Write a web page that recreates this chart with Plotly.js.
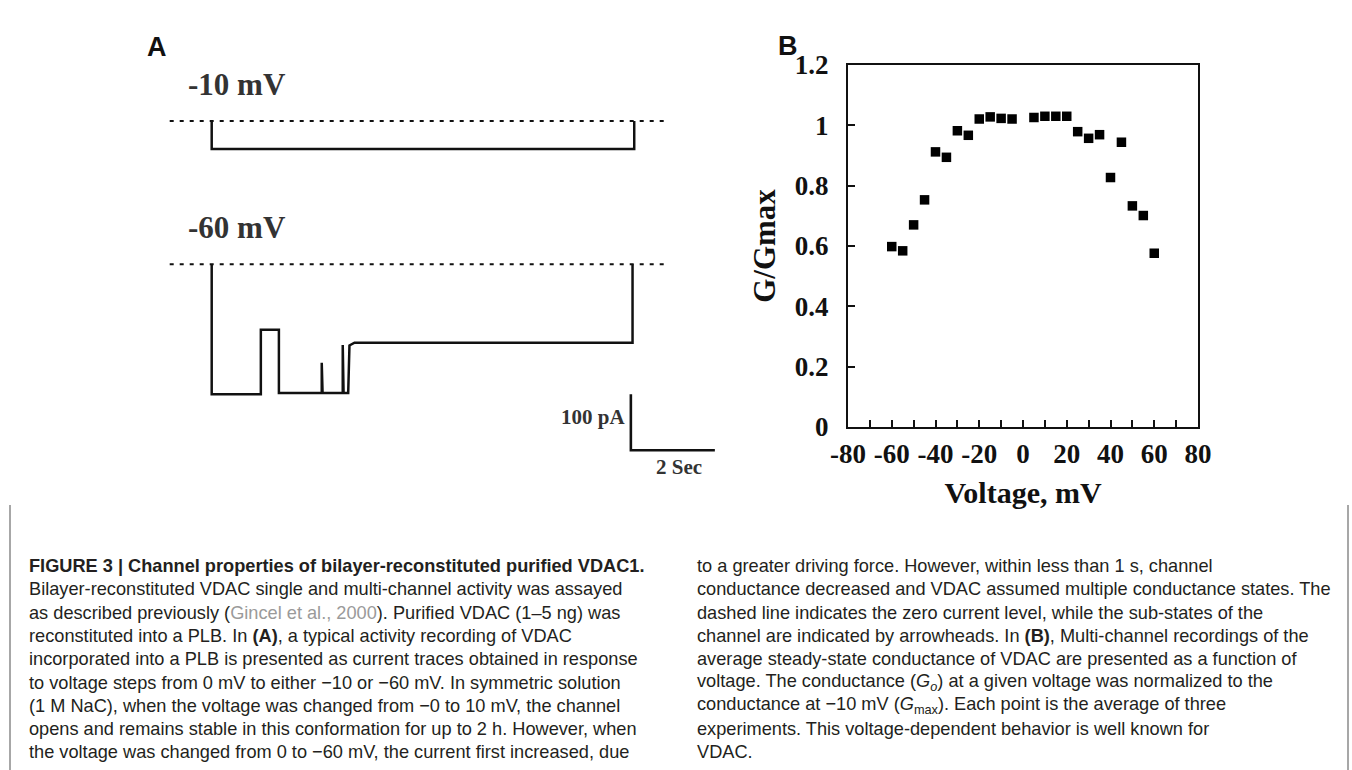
<!DOCTYPE html>
<html>
<head>
<meta charset="utf-8">
<script src="https://cdn.plot.ly/plotly-3.0.1.min.js"></script>
<style>
html, body { margin: 0; padding: 0; background: #ffffff; }
#chart { width: 1352px; height: 770px; }
</style>
</head>
<body>
<div id="chart"></div>
<script>
// ---------- Panel A: current traces (time in s, current in pA) ----------
const trace10Time    = [0, 0, 10.06, 10.06];
const trace10Current = [0, -50, -50, 0];

const trace60Time    = [0, 0, 1.17, 1.17, 1.60, 1.60, 2.62, 2.62, 2.64, 3.12, 3.12, 3.14, 3.25, 3.28, 3.40, 10.02, 10.02];
const trace60Current = [0, -232, -232, -117, -117, -230, -230, -176, -230, -230, -144, -230, -230, -145, -140, -140, 0];

const zeroLineTime    = [-1.0, 10.86];
const zeroLineCurrent = [0, 0];

const scaleBarTime    = [9.98, 9.98, 11.98];
const scaleBarCurrent = [-232, -332, -332];
const scaleBarLabels  = ['100 pA', '2 Sec'];
const traceLabels     = ['-10 mV', '-60 mV'];
const panelLabels     = ['A', 'B'];

// ---------- Panel B: normalized conductance vs voltage ----------
const voltage   = [-60, -55, -50, -45, -40, -35, -30, -25, -20, -15, -10, -5, 5, 10, 15, 20, 25, 30, 35, 40, 45, 50, 55, 60];
const gOverGmax = [0.598, 0.584, 0.670, 0.753, 0.912, 0.894, 0.982, 0.967, 1.021, 1.028, 1.023, 1.021,
                   1.026, 1.030, 1.030, 1.030, 0.979, 0.957, 0.969, 0.827, 0.944, 0.733, 0.701, 0.576];
const xTickVals = [-80, -60, -40, -20, 0, 20, 40, 60, 80];
const xTickText = ['-80', '-60', '-40', '-20', '0', '20', '40', '60', '80'];
const yTickVals = [0, 0.2, 0.4, 0.6, 0.8, 1, 1.2];
const yTickText = ['0', '0.2', '0.4', '0.6', '0.8', '1', '1.2'];
const xTitle = 'Voltage, mV';
const yTitle = 'G/Gmax';

// ---------- Caption ----------
const captionLeft = [
  '<b>FIGURE 3 | Channel properties of bilayer-reconstituted purified VDAC1.</b>',
  'Bilayer-reconstituted VDAC single and multi-channel activity was assayed',
  'as described previously (<span style="color:#9a9a9a">Gincel et al., 2000</span>). Purified VDAC (1–5 ng) was',
  'reconstituted into a PLB. In <b>(A)</b>, a typical activity recording of VDAC',
  'incorporated into a PLB is presented as current traces obtained in response',
  'to voltage steps from 0 mV to either −10 or −60 mV. In symmetric solution',
  '(1 M NaC), when the voltage was changed from −0 to 10 mV, the channel',
  'opens and remains stable in this conformation for up to 2 h. However, when',
  'the voltage was changed from 0 to −60 mV, the current first increased, due'
];
const captionRight = [
  'to a greater driving force. However, within less than 1 s, channel',
  'conductance decreased and VDAC assumed multiple conductance states. The',
  'dashed line indicates the zero current level, while the sub-states of the',
  'channel are indicated by arrowheads. In <b>(B)</b>, Multi-channel recordings of the',
  'average steady-state conductance of VDAC are presented as a function of',
  'voltage. The conductance (<i>G<sub>o</sub></i>) at a given voltage was normalized to the',
  'conductance at −10 mV (<i>G</i><sub>max</sub>). Each point is the average of three',
  'experiments. This voltage-dependent behavior is well known for',
  'VDAC.'
];

// ---------- Layout helpers (pixel -> paper) ----------
const W = 1352, H = 770;
const px = x => x / W;
const py = y => 1 - y / H;

const T0PX = 211.7, PX_PER_S = 42;      // time scale of panel A
const PX_PER_PA = 0.56;                  // current scale of panel A
const xRangeA = [-1.2, 12.4];
const xDomA = [px(T0PX + PX_PER_S * xRangeA[0]), px(T0PX + PX_PER_S * xRangeA[1])];
function yDomain(zeroPx, range) {
  const top = zeroPx - PX_PER_PA * range[1];
  const bottom = zeroPx - PX_PER_PA * range[0];
  return [py(bottom), py(top)];
}
const yRange1 = [-80, 40], yRange2 = [-350, 30];

const SERIF = 'Liberation Serif, Times New Roman, serif';
const SANS = 'Liberation Sans, Arial, sans-serif';
const CAP_FAMILY = 'Liberation Sans Narrow, Arial Narrow, Liberation Sans, Arial, sans-serif';
const INK = '#111111';

// Fit caption font size to the column width
function strip(s) { return s.replace(/<[^>]+>/g, ''); }
const ctx = document.createElement('canvas').getContext('2d');
ctx.font = '100px ' + CAP_FAMILY;
let maxW = 0;
captionLeft.slice(1).concat(captionRight).forEach(l => { maxW = Math.max(maxW, ctx.measureText(strip(l)).width); });
const capSize = Math.round(100 * 636 / maxW * 10) / 10;
const CAP_TOP = 566, CAP_STEP = 23.3;

const traces = [
  { x: zeroLineTime, y: zeroLineCurrent, xaxis: 'x', yaxis: 'y', mode: 'lines',
    line: { color: INK, width: 2, dash: '4px,6px' }, hoverinfo: 'skip', showlegend: false },
  { x: trace10Time, y: trace10Current, xaxis: 'x', yaxis: 'y', mode: 'lines',
    line: { color: INK, width: 2.5 }, showlegend: false },
  { x: zeroLineTime, y: zeroLineCurrent, xaxis: 'x2', yaxis: 'y2', mode: 'lines',
    line: { color: INK, width: 2, dash: '4px,6px' }, hoverinfo: 'skip', showlegend: false },
  { x: trace60Time, y: trace60Current, xaxis: 'x2', yaxis: 'y2', mode: 'lines',
    line: { color: INK, width: 2.5 }, showlegend: false },
  { x: scaleBarTime, y: scaleBarCurrent, xaxis: 'x2', yaxis: 'y2', mode: 'lines',
    line: { color: INK, width: 2.6 }, showlegend: false },
  { x: voltage, y: gOverGmax, xaxis: 'x3', yaxis: 'y3', mode: 'markers',
    marker: { symbol: 'square', size: 9.5, color: '#000000' }, showlegend: false }
];

const hidden = { visible: false, showgrid: false, zeroline: false, fixedrange: true };

const annotations = [];
function ann(o) { annotations.push(Object.assign({ showarrow: false, xref: 'paper', yref: 'paper' }, o)); }

ann({ text: panelLabels[0], x: px(157), y: py(47), xanchor: 'center', yanchor: 'middle',
      font: { family: SANS, size: 27, color: INK, weight: 'bold' } });
ann({ text: panelLabels[1], x: px(788), y: py(46), xanchor: 'center', yanchor: 'middle',
      font: { family: SANS, size: 27, color: INK, weight: 'bold' } });
ann({ text: traceLabels[0], x: px(186), y: py(84), xanchor: 'left', yanchor: 'middle',
      font: { family: SERIF, size: 31, color: '#333333', weight: 'bold' } });
ann({ text: traceLabels[1], x: px(186), y: py(227), xanchor: 'left', yanchor: 'middle',
      font: { family: SERIF, size: 31, color: '#333333', weight: 'bold' } });
annotations.push({ text: scaleBarLabels[0], xref: 'x2', yref: 'y2', x: scaleBarTime[0],
      y: (scaleBarCurrent[0] + scaleBarCurrent[1]) / 2, xanchor: 'right', yanchor: 'middle',
      xshift: -4, yshift: 5, showarrow: false,
      font: { family: SERIF, size: 21, color: '#333333', weight: 'bold' } });
annotations.push({ text: scaleBarLabels[1], xref: 'x2', yref: 'y2', x: (scaleBarTime[1] + scaleBarTime[2]) / 2,
      y: scaleBarCurrent[2], xanchor: 'center', yanchor: 'top', xshift: 6, yshift: -3, showarrow: false,
      font: { family: SERIF, size: 21, color: '#333333', weight: 'bold' } });

captionLeft.forEach((t, i) => ann({ text: t, x: px(27), y: py(CAP_TOP + CAP_STEP * i), xanchor: 'left', yanchor: 'middle',
      align: 'left', font: { family: CAP_FAMILY, size: capSize, color: '#231f20' } }));
captionRight.forEach((t, i) => ann({ text: t, x: px(695), y: py(CAP_TOP + CAP_STEP * i), xanchor: 'left', yanchor: 'middle',
      align: 'left', font: { family: CAP_FAMILY, size: capSize, color: '#231f20' } }));

const tickFontB = { family: SERIF, size: 27, color: INK, weight: 'bold' };

const layout = {
  width: W, height: H,
  margin: { l: 0, r: 0, t: 0, b: 0, pad: 0 },
  paper_bgcolor: '#ffffff', plot_bgcolor: 'rgba(0,0,0,0)',
  showlegend: false,
  xaxis:  Object.assign({}, hidden, { domain: xDomA, range: xRangeA, anchor: 'y' }),
  yaxis:  Object.assign({}, hidden, { domain: yDomain(121, yRange1), range: yRange1, anchor: 'x' }),
  xaxis2: Object.assign({}, hidden, { domain: xDomA, range: xRangeA, anchor: 'y2' }),
  yaxis2: Object.assign({}, hidden, { domain: yDomain(264.3, yRange2), range: yRange2, anchor: 'x2' }),
  xaxis3: {
    domain: [px(848), px(1198)], range: [-80, 80], anchor: 'y3',
    tickmode: 'array', tickvals: xTickVals, ticktext: xTickText,
    ticks: 'inside', ticklen: 7, tickwidth: 2, tickcolor: INK,
    minor: { dtick: 10, tick0: 0, ticks: 'inside', ticklen: 7, tickwidth: 2, tickcolor: INK, showgrid: false },
    showline: true, linecolor: INK, linewidth: 2, mirror: true,
    showgrid: false, zeroline: false, fixedrange: true,
    tickfont: tickFontB, ticklabelstandoff: 2,
    title: { text: xTitle, font: { family: SERIF, size: 30, color: INK, weight: 'bold' }, standoff: 14 }
  },
  yaxis3: {
    domain: [py(427), py(65)], range: [0, 1.2], anchor: 'x3',
    tickmode: 'array', tickvals: yTickVals, ticktext: yTickText,
    ticks: 'inside', ticklen: 7, tickwidth: 2, tickcolor: INK,
    showline: true, linecolor: INK, linewidth: 2, mirror: true,
    showgrid: false, zeroline: false, fixedrange: true,
    tickfont: tickFontB, ticklabelstandoff: 12,
    title: { text: yTitle, font: { family: SERIF, size: 31, color: INK, weight: 'bold' }, standoff: 10 }
  },
  shapes: [
    { type: 'line', xref: 'paper', yref: 'paper', x0: px(10), x1: px(10), y0: py(505), y1: 0,
      line: { color: '#8a8a8a', width: 1.5 } },
    { type: 'line', xref: 'paper', yref: 'paper', x0: px(1348), x1: px(1348), y0: py(505), y1: 0,
      line: { color: '#8a8a8a', width: 1.5 } }
  ],
  annotations: annotations
};

Plotly.newPlot('chart', traces, layout, { staticPlot: true, displayModeBar: false });
</script>
</body>
</html>
